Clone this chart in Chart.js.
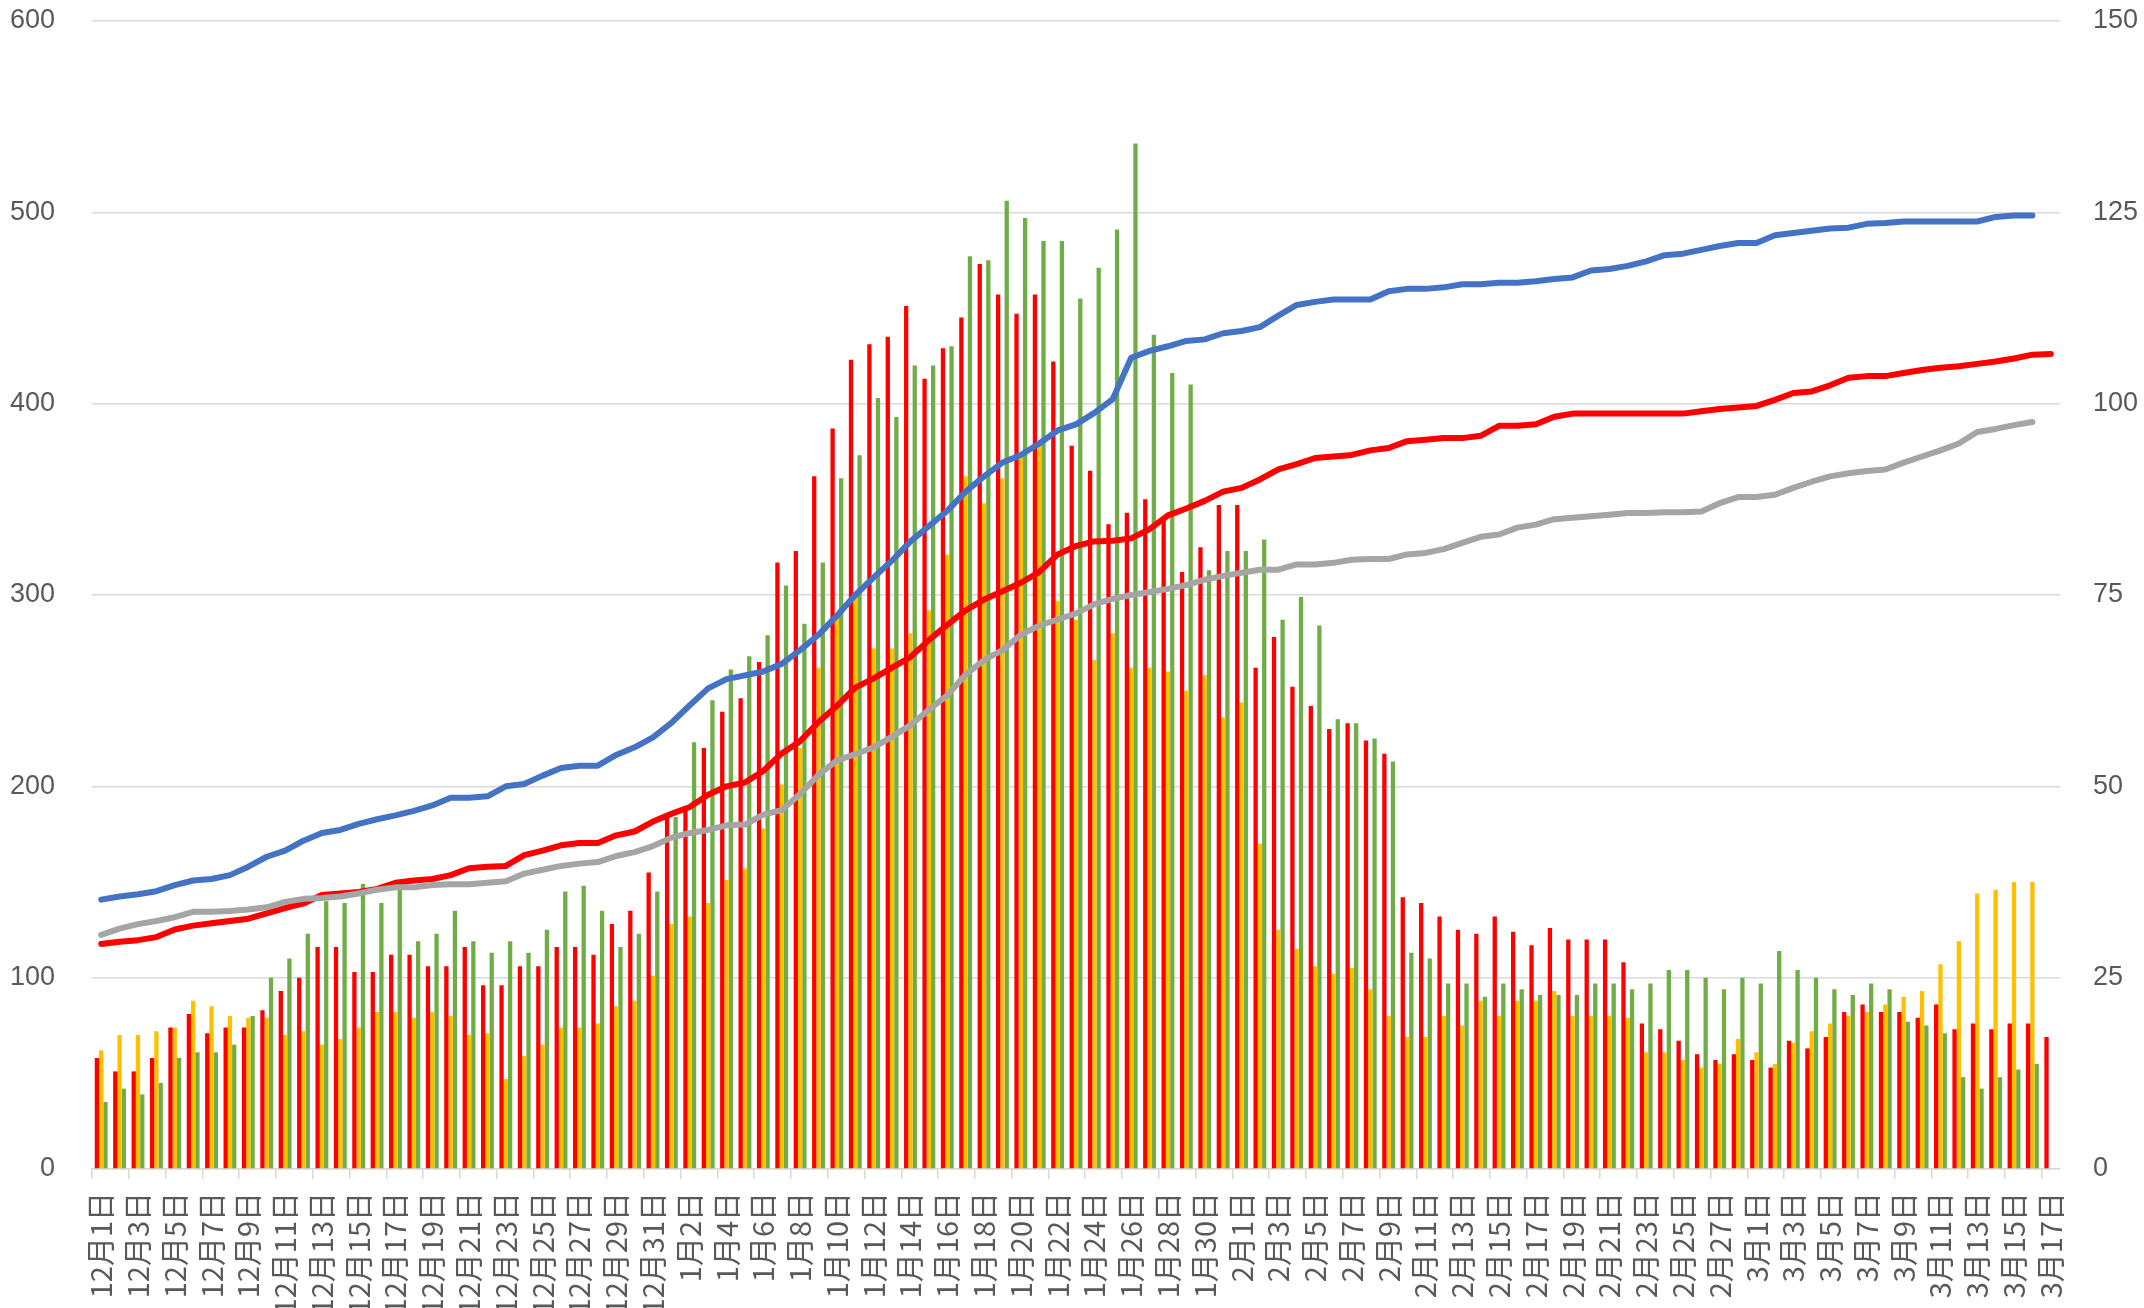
<!DOCTYPE html>
<html lang="ja">
<head>
<meta charset="utf-8">
<title>日別推移</title>
<script src="https://cdn.jsdelivr.net/npm/chart.js@4.4.1/dist/chart.umd.min.js"></script>
<style>
  html, body { margin: 0; padding: 0; background: #fff; overflow: hidden; }
  #wrap { width: 2144px; height: 1308px; }
</style>
</head>
<body>
<div id="wrap"><canvas id="myChart" width="2144" height="1308"></canvas></div>
<script>
// 日付（カテゴリ）
const dayLabels = [
  '12月1日','12月2日','12月3日','12月4日','12月5日','12月6日','12月7日','12月8日','12月9日','12月10日',
  '12月11日','12月12日','12月13日','12月14日','12月15日','12月16日','12月17日','12月18日','12月19日','12月20日',
  '12月21日','12月22日','12月23日','12月24日','12月25日','12月26日','12月27日','12月28日','12月29日','12月30日','12月31日',
  '1月1日','1月2日','1月3日','1月4日','1月5日','1月6日','1月7日','1月8日','1月9日','1月10日',
  '1月11日','1月12日','1月13日','1月14日','1月15日','1月16日','1月17日','1月18日','1月19日','1月20日',
  '1月21日','1月22日','1月23日','1月24日','1月25日','1月26日','1月27日','1月28日','1月29日','1月30日','1月31日',
  '2月1日','2月2日','2月3日','2月4日','2月5日','2月6日','2月7日','2月8日','2月9日','2月10日',
  '2月11日','2月12日','2月13日','2月14日','2月15日','2月16日','2月17日','2月18日','2月19日','2月20日',
  '2月21日','2月22日','2月23日','2月24日','2月25日','2月26日','2月27日','2月28日',
  '3月1日','3月2日','3月3日','3月4日','3月5日','3月6日','3月7日','3月8日','3月9日','3月10日',
  '3月11日','3月12日','3月13日','3月14日','3月15日','3月16日','3月17日'
];

// 棒グラフ（左軸）
const redBars = [
  58, 51, 51, 58, 74, 81, 71, 74, 74, 83,
  93, 100, 116, 116, 103, 103, 112, 112, 106, 106,
  116, 96, 96, 106, 106, 116, 116, 112, 128, 135,
  155, 184, 189, 220, 239, 246, 265, 317, 323, 362,
  387, 423, 431, 435, 451, 413, 429, 445, 473, 457,
  447, 457, 422, 378, 365, 337, 343, 350, 339, 312,
  325, 347, 347, 262, 278, 252, 242, 230, 233, 224,
  217, 142, 139, 132, 125, 123, 132, 124, 117, 126,
  120, 120, 120, 108, 76, 73, 67, 60, 57, 60,
  57, 53, 67, 63, 69, 82, 86, 82, 82, 79,
  86, 73, 76, 73, 76, 76, 69
];
const yellowBars = [
  62, 70, 70, 72, 74, 88, 85, 80, 79, 79,
  70, 72, 65, 68, 74, 82, 82, 79, 82, 80,
  70, 71, 47, 59, 65, 74, 74, 76, 85, 88,
  101, 128, 132, 139, 151, 157, 178, 201, 220, 262,
  288, 300, 272, 272, 280, 292, 321, 362, 348, 361,
  372, 380, 297, 287, 266, 280, 262, 262, 260, 250,
  258, 236, 244, 170, 125, 115, 106, 102, 105, 94,
  80, 69, 69, 80, 75, 88, 80, 88, 88, 93,
  80, 80, 80, 79, 61, 61, 57, 53, 55, 68,
  61, 55, 66, 72, 76, 80, 82, 86, 90, 93,
  107, 119, 144, 146, 150, 150, null
];
const greenBars = [
  35, 42, 39, 45, 58, 61, 61, 65, 80, 100,
  110, 123, 140, 139, 149, 139, 146, 119, 123, 135,
  119, 113, 119, 113, 125, 145, 148, 135, 116, 123,
  145, 184, 223, 245, 261, 268, 279, 305, 285, 317,
  361, 373, 403, 393, 420, 420, 430, 477, 475, 506,
  497, 485, 485, 455, 471, 491, 536, 436, 416, 410,
  313, 323, 323, 329, 287, 299, 284, 235, 233, 225,
  213, 113, 110, 97, 97, 90, 97, 94, 91, 91,
  91, 97, 97, 94, 97, 104, 104, 100, 94, 100,
  97, 114, 104, 100, 94, 91, 97, 94, 77, 75,
  71, 48, 42, 48, 52, 55, null
];

// 折れ線（右軸）
const blueLine = [
  35.2, 35.6, 35.9, 36.3, 37.1, 37.7, 37.9, 38.4, 39.5, 40.8,
  41.6, 42.9, 43.9, 44.3, 45.1, 45.7, 46.2, 46.8, 47.5, 48.5,
  48.5, 48.7, 50.0, 50.3, 51.4, 52.4, 52.7, 52.7, 54.1, 55.1,
  56.4, 58.3, 60.6, 62.8, 64.0, 64.5, 65.0, 66.0, 67.8, 69.8,
  72.3, 75.0, 77.3, 79.5, 82.0, 84.0, 86.0, 88.5, 90.5, 92.3,
  93.3, 94.8, 96.5, 97.3, 98.8, 100.6, 106.0, 106.9, 107.5, 108.2,
  108.4, 109.2, 109.5, 110.0, 111.5, 112.9, 113.3, 113.6, 113.6, 113.6,
  114.7, 115.0, 115.0, 115.2, 115.6, 115.6, 115.8, 115.8, 116.0, 116.3,
  116.5, 117.4, 117.6, 118.0, 118.6, 119.4, 119.6, 120.1, 120.6, 121.0,
  121.0, 122.0, 122.3, 122.6, 122.9, 123.0, 123.5, 123.6, 123.8, 123.8,
  123.8, 123.8, 123.8, 124.4, 124.6, 124.6, null
];
const redLine = [
  29.4, 29.7, 29.9, 30.3, 31.3, 31.8, 32.1, 32.4, 32.7, 33.4,
  34.1, 34.7, 35.8, 36.0, 36.2, 36.6, 37.4, 37.7, 37.9, 38.4,
  39.3, 39.5, 39.6, 41.0, 41.6, 42.3, 42.6, 42.6, 43.6, 44.1,
  45.4, 46.4, 47.3, 48.9, 50.0, 50.5, 52.0, 54.3, 55.9, 58.4,
  60.5, 62.9, 64.1, 65.5, 66.9, 69.1, 71.1, 73.0, 74.4, 75.5,
  76.6, 78.0, 80.3, 81.4, 82.0, 82.1, 82.4, 83.6, 85.4, 86.3,
  87.3, 88.5, 89.0, 90.1, 91.4, 92.1, 92.9, 93.1, 93.3, 93.9,
  94.2, 95.1, 95.3, 95.5, 95.5, 95.8, 97.1, 97.1, 97.3, 98.3,
  98.7, 98.7, 98.7, 98.7, 98.7, 98.7, 98.7, 99.0, 99.3, 99.5,
  99.7, 100.5, 101.4, 101.6, 102.4, 103.4, 103.6, 103.6, 104.0, 104.4,
  104.7, 104.9, 105.2, 105.5, 105.9, 106.4, 106.5
];
const grayLine = [
  30.6, 31.4, 32.0, 32.4, 32.9, 33.6, 33.6, 33.7, 33.9, 34.2,
  34.9, 35.3, 35.4, 35.6, 36.0, 36.5, 36.8, 36.8, 37.1, 37.2,
  37.2, 37.4, 37.6, 38.6, 39.1, 39.6, 39.9, 40.1, 40.9, 41.4,
  42.2, 43.3, 43.9, 44.3, 44.9, 45.0, 46.3, 46.9, 49.0, 51.5,
  53.4, 54.2, 55.1, 56.5, 58.0, 60.0, 61.9, 64.6, 66.5, 67.8,
  69.8, 71.0, 71.8, 72.6, 73.8, 74.5, 75.0, 75.4, 75.8, 76.3,
  77.0, 77.5, 77.9, 78.3, 78.3, 79.0, 79.0, 79.2, 79.6, 79.7,
  79.7, 80.3, 80.5, 81.0, 81.8, 82.6, 82.9, 83.8, 84.2, 84.9,
  85.1, 85.3, 85.5, 85.7, 85.7, 85.8, 85.8, 85.9, 87.0, 87.8,
  87.8, 88.1, 89.0, 89.8, 90.5, 90.9, 91.2, 91.4, 92.3, 93.1,
  93.9, 94.8, 96.3, 96.7, 97.2, 97.6, null
];

// 軸の目盛り
const leftMax = 600, leftStep = 100;
const rightMax = 150, rightStep = 25;

const tickColor = '#595959';
const gridColor = '#d9d9d9';
const numFont = { family: '"Liberation Sans", Arial, sans-serif', size: 27 };
const dateFont = { family: '"Noto Sans CJK JP", sans-serif', size: 29 };

function barSet(label, data, color) {
  return {
    type: 'bar', label: label, data: data, backgroundColor: color,
    borderWidth: 0, categoryPercentage: 0.7, barPercentage: 1.0,
    yAxisID: 'y', order: 3
  };
}
function lineSet(label, data, color, order) {
  return {
    type: 'line', label: label, data: data, borderColor: color, backgroundColor: color,
    borderWidth: 6, pointRadius: 0, tension: 0, fill: false,
    borderCapStyle: 'round', borderJoinStyle: 'round', spanGaps: false,
    yAxisID: 'y1', order: order
  };
}

// 縦軸の幅と上下の余白を固定する
function fixVertical(width) {
  return s => {
    s.width = width;
    s.paddingTop = 21;
    s.paddingBottom = 0;
  };
}

const ctx = document.getElementById('myChart').getContext('2d');
const chart = new Chart(ctx, {
  type: 'bar',
  data: {
    labels: dayLabels,
    datasets: [
      barSet('赤', redBars, '#FF0000'),
      barSet('黄', yellowBars, '#FFC000'),
      barSet('緑', greenBars, '#70AD47'),
      lineSet('青線', blueLine, '#4472C4', 2),
      lineSet('赤線', redLine, '#FF0000', 1),
      lineSet('灰線', grayLine, '#A5A5A5', 0)
    ]
  },
  options: {
    responsive: false,
    animation: false,
    layout: { padding: 0 },
    plugins: { legend: { display: false }, tooltip: { enabled: false } },
    scales: {
      x: {
        offset: true,
        grid: {
          offset: true,
          drawOnChartArea: false,
          drawTicks: true,
          tickLength: 10,
          lineWidth: 1.5,
          // 目盛り線は2日おき
          color: c => (c.index !== undefined && c.index % 2 === 0) ? gridColor : 'rgba(0,0,0,0)'
        },
        border: { display: true, color: gridColor, width: 1.5 },
        ticks: {
          autoSkip: false,
          minRotation: 90,
          maxRotation: 90,
          padding: 13,
          color: tickColor,
          font: dateFont,
          callback: function (value, index) {
            return index % 2 === 0 ? this.getLabelForValue(value) : '';
          }
        },
        afterFit: s => { s.height = 139; }
      },
      y: {
        position: 'left',
        min: 0, max: leftMax,
        grid: { color: gridColor, lineWidth: 1.5, drawTicks: false },
        border: { display: false },
        ticks: { stepSize: leftStep, padding: 37, color: tickColor, font: numFont },
        afterFit: fixVertical(92)
      },
      y1: {
        position: 'right',
        min: 0, max: rightMax,
        grid: { display: false, drawTicks: false },
        border: { display: false },
        ticks: { stepSize: rightStep, padding: 33, color: tickColor, font: numFont },
        afterFit: fixVertical(84)
      }
    }
  }
});
</script>
</body>
</html>
